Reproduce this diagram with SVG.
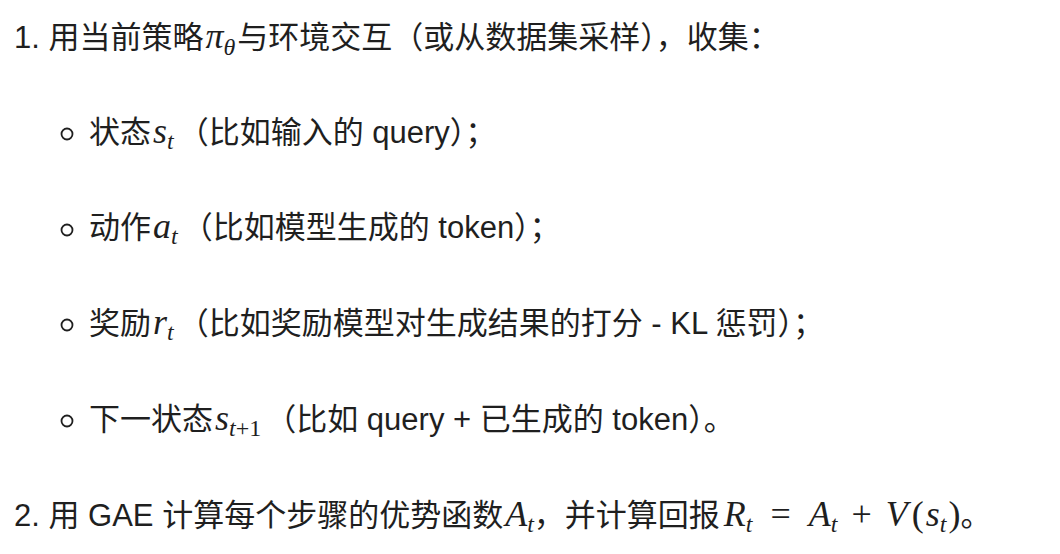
<svg xmlns="http://www.w3.org/2000/svg" width="1060" height="554" viewBox="0 0 1060 554">
<style>
.t{font-family:"Liberation Sans","Noto Sans CJK SC",sans-serif;font-size:31px;fill:#1f1f1f}
.m{font-family:"Liberation Serif",serif;font-style:italic;font-size:36px}
.s{font-family:"Liberation Serif",serif;font-style:italic;font-size:24px}
.r{font-family:"Liberation Serif",serif;font-size:36px}
.rs{font-family:"Liberation Serif",serif;font-size:24px}
.b{fill:none;stroke:#1f1f1f;stroke-width:1.8}
</style>
<rect width="1060" height="554" fill="#fff"/>
<text class="t" x="14" y="48">1. 用当前策略<tspan class="m" dx="2">π</tspan><tspan class="s" dy="7">θ</tspan><tspan dy="-7" dx="2">与环境交互（或从数据集采样），收集：</tspan></text>
<g id="bullets">
<circle class="b" cx="67" cy="134" r="5.5"/>
<circle class="b" cx="67" cy="230" r="5.5"/>
<circle class="b" cx="67" cy="325" r="5.5"/>
<circle class="b" cx="67" cy="421" r="5.5"/>
</g>
<text class="t" x="89" y="143">状态<tspan class="m" dx="2">s</tspan><tspan class="s" dy="6">t</tspan><tspan dy="-6" dx="4">（比如输入的 query）；</tspan></text>
<text class="t" x="89" y="238">动作<tspan class="m" dx="2">a</tspan><tspan class="s" dy="6">t</tspan><tspan dy="-6" dx="4">（比如模型生成的 token）；</tspan></text>
<text class="t" x="89" y="334">奖励<tspan class="m" dx="2">r</tspan><tspan class="s" dy="6">t</tspan><tspan dy="-6" dx="4">（比如奖励模型对生成结果的打分 - KL 惩罚）；</tspan></text>
<text class="t" x="89" y="430">下一状态<tspan class="m" dx="2">s</tspan><tspan class="s" dy="6">t</tspan><tspan class="rs">+1</tspan><tspan dy="-6" dx="4">（比如 query + 已生成的 token）。</tspan></text>
<text class="t" x="14" y="526">2. 用 GAE 计算每个步骤的优势函数<tspan class="m" dx="2">A</tspan><tspan class="s" dy="6">t</tspan><tspan dy="-6">，并计算回报</tspan><tspan class="m" dx="4">R</tspan><tspan class="s" dy="6">t</tspan><tspan class="r" dy="-6" dx="18">=</tspan><tspan class="m" dx="18">A</tspan><tspan class="s" dy="6">t</tspan><tspan class="r" dy="-6" dx="14">+</tspan><tspan class="m" dx="14">V</tspan><tspan class="r" dx="4">(</tspan><tspan class="m" dx="2">s</tspan><tspan class="s" dy="6">t</tspan><tspan class="r" dy="-6" dx="2">)</tspan><tspan>。</tspan></text>
</svg>
